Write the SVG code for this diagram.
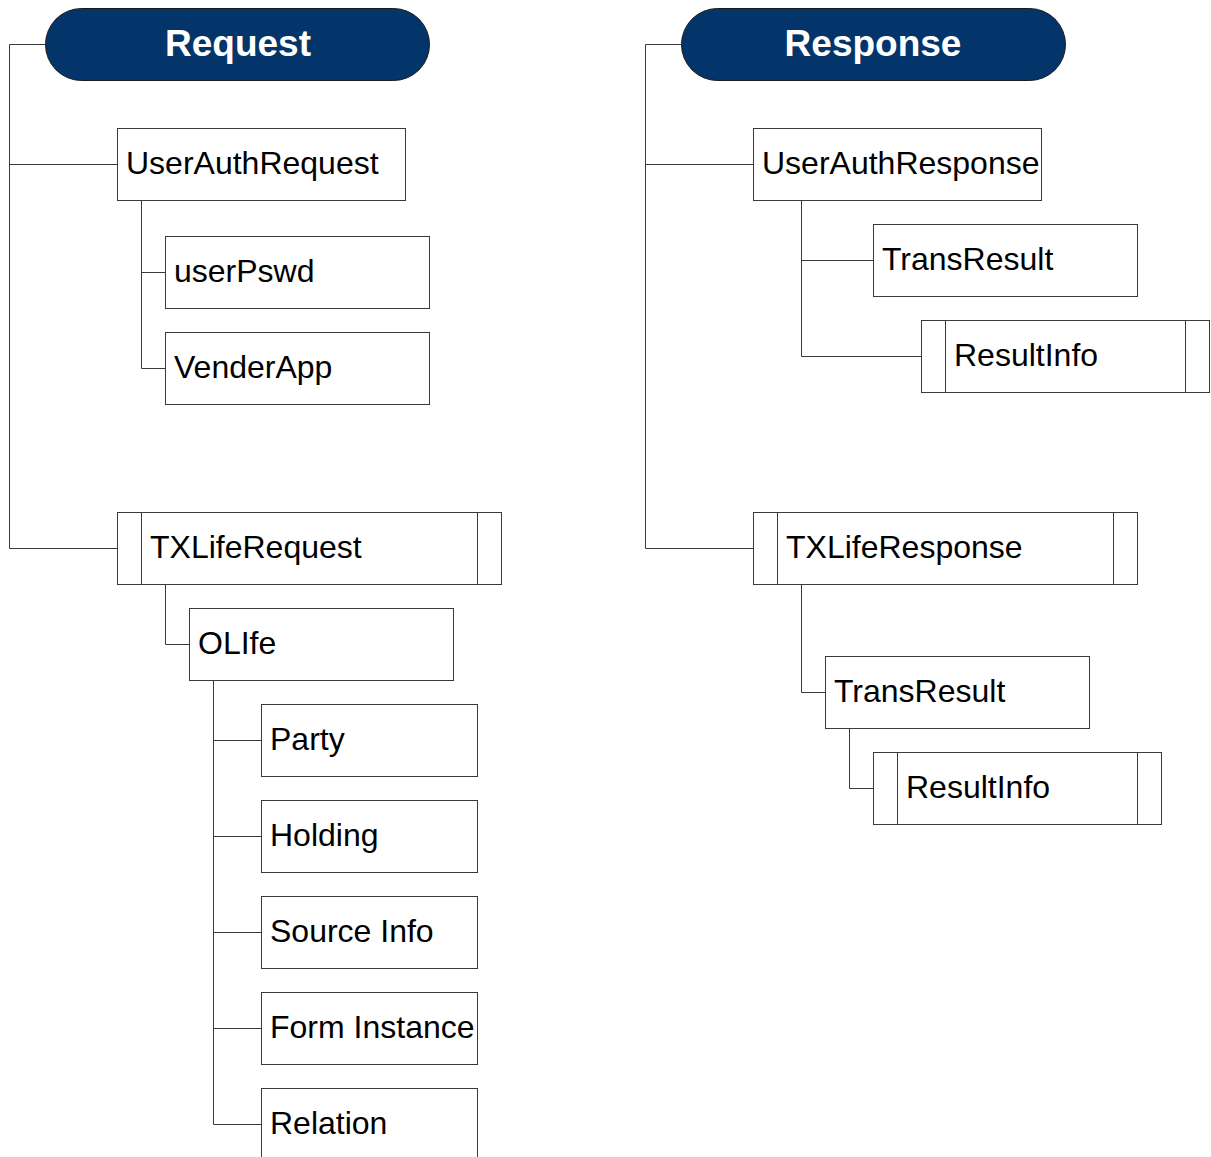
<svg xmlns="http://www.w3.org/2000/svg" width="1211" height="1157" viewBox="0 0 1211 1157">
<style>
.bg{fill:#ffffff}
.box{fill:#ffffff;stroke:#3a3a3a;stroke-width:1}
.pill{fill:#03356a;stroke:#1a1a1a;stroke-width:1}
.lbl{font-family:"Liberation Sans",Arial,sans-serif;font-size:32px;fill:#000000}
.head{font-family:"Liberation Sans",Arial,sans-serif;font-size:37px;font-weight:bold;fill:#ffffff;text-anchor:middle}
.conn{fill:none;stroke:#3a3a3a;stroke-width:1}
</style>
<rect class="bg" x="0" y="0" width="1211" height="1157"/>
<g id="connectors">
<path class="conn" d="M45.5,44.5 H9.5 V548.5 H117.5 M9.5,164.5 H117.5"/>
<path class="conn" d="M141.5,200.5 V368.5 H165.5 M141.5,272.5 H165.5"/>
<path class="conn" d="M165.5,584.5 V644.5 H189.5"/>
<path class="conn" d="M213.5,680.5 V1124.5 H261.5 M213.5,740.5 H261.5 M213.5,836.5 H261.5 M213.5,932.5 H261.5 M213.5,1028.5 H261.5"/>
<path class="conn" d="M681.5,44.5 H645.5 V548.5 H753.5 M645.5,164.5 H753.5"/>
<path class="conn" d="M801.5,200.5 V356.5 H921.5 M801.5,260.5 H873.5"/>
<path class="conn" d="M801.5,584.5 V692.5 H825.5"/>
<path class="conn" d="M849.5,728.5 V788.5 H873.5"/>
</g>
<g id="request">
<rect class="pill" x="45.5" y="8.5" width="384" height="72" rx="36" ry="36"/>
<text class="head" x="238" y="56">Request</text>
</g>
<g id="userAuthRequest">
<rect class="box" x="117.5" y="128.5" width="288" height="72"/>
<text class="lbl" x="126" y="174">UserAuthRequest</text>
</g>
<g id="userPswd">
<rect class="box" x="165.5" y="236.5" width="264" height="72"/>
<text class="lbl" x="174" y="282">userPswd</text>
</g>
<g id="venderApp">
<rect class="box" x="165.5" y="332.5" width="264" height="72"/>
<text class="lbl" x="174" y="378">VenderApp</text>
</g>
<g id="txLifeRequest">
<rect class="box" x="117.5" y="512.5" width="384" height="72"/>
<path class="conn" d="M141.5,512.5 V584.5 M477.5,512.5 V584.5"/>
<text class="lbl" x="150" y="558">TXLifeRequest</text>
</g>
<g id="olife">
<rect class="box" x="189.5" y="608.5" width="264" height="72"/>
<text class="lbl" x="198" y="654">OLIfe</text>
</g>
<g id="party">
<rect class="box" x="261.5" y="704.5" width="216" height="72"/>
<text class="lbl" x="270" y="750">Party</text>
</g>
<g id="holding">
<rect class="box" x="261.5" y="800.5" width="216" height="72"/>
<text class="lbl" x="270" y="846">Holding</text>
</g>
<g id="sourceInfo">
<rect class="box" x="261.5" y="896.5" width="216" height="72"/>
<text class="lbl" x="270" y="942">Source Info</text>
</g>
<g id="formInstance">
<rect class="box" x="261.5" y="992.5" width="216" height="72"/>
<text class="lbl" x="270" y="1038">Form Instance</text>
</g>
<g id="relation">
<rect class="box" x="261.5" y="1088.5" width="216" height="72"/>
<text class="lbl" x="270" y="1134">Relation</text>
</g>
<g id="response">
<rect class="pill" x="681.5" y="8.5" width="384" height="72" rx="36" ry="36"/>
<text class="head" x="873" y="56">Response</text>
</g>
<g id="userAuthResponse">
<rect class="box" x="753.5" y="128.5" width="288" height="72"/>
<text class="lbl" x="762" y="174">UserAuthResponse</text>
</g>
<g id="transResult1">
<rect class="box" x="873.5" y="224.5" width="264" height="72"/>
<text class="lbl" x="882" y="270">TransResult</text>
</g>
<g id="resultInfo1">
<rect class="box" x="921.5" y="320.5" width="288" height="72"/>
<path class="conn" d="M945.5,320.5 V392.5 M1185.5,320.5 V392.5"/>
<text class="lbl" x="954" y="366">ResultInfo</text>
</g>
<g id="txLifeResponse">
<rect class="box" x="753.5" y="512.5" width="384" height="72"/>
<path class="conn" d="M777.5,512.5 V584.5 M1113.5,512.5 V584.5"/>
<text class="lbl" x="786" y="558">TXLifeResponse</text>
</g>
<g id="transResult2">
<rect class="box" x="825.5" y="656.5" width="264" height="72"/>
<text class="lbl" x="834" y="702">TransResult</text>
</g>
<g id="resultInfo2">
<rect class="box" x="873.5" y="752.5" width="288" height="72"/>
<path class="conn" d="M897.5,752.5 V824.5 M1137.5,752.5 V824.5"/>
<text class="lbl" x="906" y="798">ResultInfo</text>
</g>
</svg>
